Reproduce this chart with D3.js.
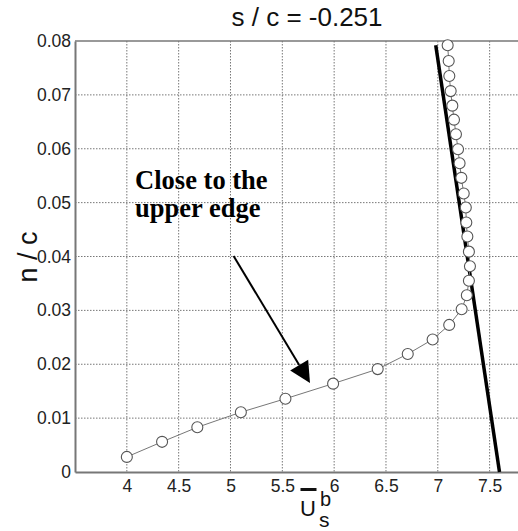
<!DOCTYPE html>
<html>
<head>
<meta charset="utf-8">
<script src="https://cdn.jsdelivr.net/npm/d3@7"></script>
<style>
  html, body { margin: 0; padding: 0; background: #fff; }
  svg { display: block; }
</style>
</head>
<body>
<svg id="chart" width="518" height="531"></svg>
<script>
// Circle-marked profile: mean velocity vs. normal distance
const ubar = [4.00, 4.34, 4.68, 5.10, 5.53, 5.99, 6.42, 6.71, 6.95, 7.11, 7.23, 7.28, 7.30, 7.31,
              7.30, 7.285, 7.275, 7.27, 7.25, 7.227, 7.21, 7.195, 7.175, 7.156, 7.14, 7.124, 7.111, 7.105, 7.095];
const nc   = [0.0028, 0.0056, 0.0083, 0.0111, 0.0136, 0.0164, 0.0191, 0.0219, 0.0246, 0.0273, 0.0302, 0.0328, 0.0355, 0.0382,
              0.0409, 0.0437, 0.0463, 0.0491, 0.0517, 0.0546, 0.0573, 0.0599, 0.0627, 0.0654, 0.0680, 0.0707, 0.0735, 0.0763, 0.0792];

// Reference straight line
const refX = [6.98, 7.595];
const refY = [0.0792, 0.0];

const xTicks = [4, 4.5, 5, 5.5, 6, 6.5, 7, 7.5];
const xTickLabels = ["4", "4.5", "5", "5.5", "6", "6.5", "7", "7.5"];
const yTicks = [0, 0.01, 0.02, 0.03, 0.04, 0.05, 0.06, 0.07, 0.08];
const yTickLabels = ["0", "0.01", "0.02", "0.03", "0.04", "0.05", "0.06", "0.07", "0.08"];

const titleText = "s / c = -0.251";
const noteLines = ["Close to the", "upper edge"];
const noteAnchor = [4.08, 0.0525];
const arrowFrom = [5.03, 0.0401];
const arrowTo = [5.767, 0.0165];

const svg = d3.select("#chart");
const plotLeft = 75, plotTop = 41, plotBottom = 472;
const x = d3.scaleLinear().domain([3.5, 8]).range([plotLeft, plotLeft + 4.5 * 103.66]);
const y = d3.scaleLinear().domain([0, 0.08]).range([plotBottom, plotTop]);
const plotRight = x(8);

const sans = "'Liberation Sans', Arial, sans-serif";

// Dotted grid
const grid = svg.append("g");
grid.selectAll("line.gx").data(xTicks).join("line")
  .attr("x1", d => x(d)).attr("x2", d => x(d))
  .attr("y1", plotTop).attr("y2", plotBottom)
  .attr("stroke", "#777").attr("stroke-width", 1).attr("stroke-dasharray", "1.5,1.5");
grid.selectAll("line.gy").data(yTicks.slice(1, -1)).join("line")
  .attr("x1", plotLeft).attr("x2", plotRight)
  .attr("y1", d => y(d)).attr("y2", d => y(d))
  .attr("stroke", "#777").attr("stroke-width", 1).attr("stroke-dasharray", "1.5,1.5");

// Axes
const xAxis = d3.axisBottom(x).tickValues(xTicks).tickSize(0).tickPadding(8)
  .tickFormat((d, i) => xTickLabels[i]);
const gx = svg.append("g").attr("transform", `translate(0,${plotBottom})`).call(xAxis);
gx.select(".domain").attr("stroke", "#777").attr("stroke-width", 2);
gx.selectAll("text").attr("font-family", sans).attr("font-size", 17.5).attr("fill", "#222");

const yAxis = d3.axisLeft(y).tickValues(yTicks).tickSize(0).tickPadding(4)
  .tickFormat((d, i) => yTickLabels[i]);
const gy = svg.append("g").attr("transform", `translate(${plotLeft},0)`).call(yAxis);
gy.select(".domain").attr("stroke", "#777").attr("stroke-width", 2);
gy.selectAll("text").attr("font-family", sans).attr("font-size", 17.5).attr("fill", "#222");

// Top border
svg.append("line").attr("x1", plotLeft).attr("x2", plotRight).attr("y1", plotTop).attr("y2", plotTop)
  .attr("stroke", "#777").attr("stroke-width", 1.5);

// Reference line
svg.append("path")
  .datum(refX.map((v, i) => [v, refY[i]]))
  .attr("d", d3.line().x(d => x(d[0])).y(d => y(d[1])))
  .attr("fill", "none").attr("stroke", "#000").attr("stroke-width", 3.5);

// Profile
const pts = ubar.map((v, i) => [v, nc[i]]);
svg.append("path").datum(pts)
  .attr("d", d3.line().x(d => x(d[0])).y(d => y(d[1])))
  .attr("fill", "none").attr("stroke", "#777").attr("stroke-width", 1);
svg.selectAll("circle.pt").data(pts).join("circle")
  .attr("cx", d => x(d[0])).attr("cy", d => y(d[1])).attr("r", 5.5)
  .attr("fill", "#fff").attr("stroke", "#555").attr("stroke-width", 1.1);

// Annotation
const note = svg.append("text")
  .attr("font-family", "'Liberation Serif', 'Times New Roman', serif")
  .attr("font-weight", "bold").attr("font-size", 26.5).attr("fill", "#000");
noteLines.forEach((t, i) => {
  note.append("tspan").attr("x", x(noteAnchor[0])).attr("y", y(noteAnchor[1]) + i * 28).text(t);
});

// Arrow
const ax0 = x(arrowFrom[0]), ay0 = y(arrowFrom[1]), ax1 = x(arrowTo[0]), ay1 = y(arrowTo[1]);
const ang = Math.atan2(ay1 - ay0, ax1 - ax0);
const headLen = 21, headHalf = 10.5;
const bx = ax1 - headLen * Math.cos(ang), by = ay1 - headLen * Math.sin(ang);
svg.append("line").attr("x1", ax0).attr("y1", ay0).attr("x2", bx).attr("y2", by)
  .attr("stroke", "#000").attr("stroke-width", 2);
svg.append("path")
  .attr("d", `M${ax1},${ay1}L${bx - headHalf * Math.sin(ang)},${by + headHalf * Math.cos(ang)}L${bx + headHalf * Math.sin(ang)},${by - headHalf * Math.cos(ang)}Z`)
  .attr("fill", "#000");

// Title
svg.append("text").attr("x", 307).attr("y", 26).attr("text-anchor", "middle")
  .attr("font-family", sans).attr("font-size", 26).attr("fill", "#111").text(titleText);

// Y label
svg.append("text").attr("transform", `translate(37,257) rotate(-90)`)
  .attr("text-anchor", "middle").attr("font-family", sans).attr("font-size", 27)
  .attr("fill", "#111").text("n / c");

// X label: U with overbar, subscript s, superscript b
const xl = svg.append("g").attr("font-family", sans).attr("fill", "#111");
xl.append("text").attr("x", 300).attr("y", 516).attr("font-size", 22).text("U");
xl.append("rect").attr("x", 300.5).attr("y", 488).attr("width", 16).attr("height", 3).attr("fill", "#111");
xl.append("text").attr("x", 320).attr("y", 506).attr("font-size", 20).text("b");
xl.append("text").attr("x", 319).attr("y", 527).attr("font-size", 21).text("s");
</script>
</body>
</html>
